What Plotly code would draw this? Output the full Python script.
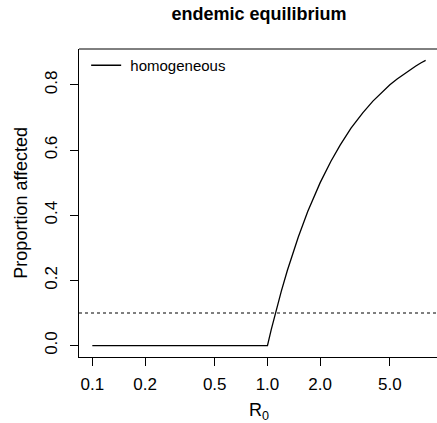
import plotly.graph_objects as go

# Data
r0 = [0.1, 1.0, 1.05, 1.1, 1.2, 1.3, 1.4, 1.5, 1.7, 2.0, 2.3, 2.6, 3.0, 3.5,
      4.0, 4.5, 5.0, 5.5, 6.0, 6.5, 7.0, 7.5, 8.0]
prop = [0.0, 0.0, 0.048, 0.091, 0.167, 0.231, 0.286, 0.333, 0.412, 0.500,
        0.565, 0.615, 0.667, 0.714, 0.750, 0.778, 0.800, 0.818, 0.833,
        0.846, 0.857, 0.867, 0.875]
threshold = 0.1
x_ticks = [0.1, 0.2, 0.5, 1.0, 2.0, 5.0]
x_tick_labels = ["0.1", "0.2", "0.5", "1.0", "2.0", "5.0"]
y_ticks = [0.0, 0.2, 0.4, 0.6, 0.8]
y_tick_labels = ["0.0", "0.2", "0.4", "0.6", "0.8"]

FONT = "Liberation Sans, Arial, Helvetica, sans-serif"

fig = go.Figure()
fig.add_trace(go.Scatter(x=r0, y=prop, mode="lines", name="\u00a0homogeneous",
                         line=dict(color="black", width=1.3)))

fig.add_shape(type="line", xref="paper", x0=0, x1=1, yref="y",
              y0=threshold, y1=threshold,
              line=dict(color="black", width=1.2, dash="3px,3px"))
# top border of the box (right border falls outside the picture)
fig.add_shape(type="line", xref="paper", x0=0, x1=1, yref="paper", y0=1, y1=1,
              line=dict(color="black", width=1))

fig.update_layout(
    width=437, height=423,
    margin=dict(l=79, r=0, t=49, b=66),
    paper_bgcolor="white", plot_bgcolor="white",
    font=dict(family=FONT, color="black", size=15),
    title=dict(text="<b>endemic equilibrium</b>", x=0.503, xanchor="center",
               xref="paper", y=1 - 14 / 423, yref="container", yanchor="middle",
               font=dict(size=18, family=FONT, color="black")),
    showlegend=True,
    legend=dict(x=0.02, y=1.0, xanchor="left", yanchor="top",
                bgcolor="rgba(0,0,0,0)", borderwidth=0,
                font=dict(size=15, family=FONT, color="black"), itemwidth=30),
    xaxis=dict(type="log", range=[-1.076, 0.968], showgrid=False, zeroline=False,
               showline=True, linecolor="black", linewidth=1,
               ticks="outside", ticklen=8, tickcolor="black", tickwidth=1,
               tickvals=x_ticks, ticktext=x_tick_labels, ticklabelstandoff=4,
               tickfont=dict(size=17, family=FONT, color="black")),
    yaxis=dict(range=[-0.035, 0.910], showgrid=False, zeroline=False,
               showline=True, linecolor="black", linewidth=1,
               ticks="outside", ticklen=8, tickcolor="black", tickwidth=1,
               tickvals=y_ticks, ticktext=y_tick_labels, tickangle=-90,
               ticklabelstandoff=6,
               tickfont=dict(size=17, family=FONT, color="black")),
    annotations=[
        dict(text="R<sub>0</sub>", xref="paper", yref="paper", x=0.503, y=-0.178,
             xanchor="center", yanchor="middle", showarrow=False,
             font=dict(size=18, family=FONT, color="black")),
        dict(text="Proportion affected", xref="paper", yref="paper", x=-0.163, y=0.5,
             xanchor="center", yanchor="middle", textangle=-90, showarrow=False,
             font=dict(size=18, family=FONT, color="black")),
    ],
)

fig.write_html("out.html")
